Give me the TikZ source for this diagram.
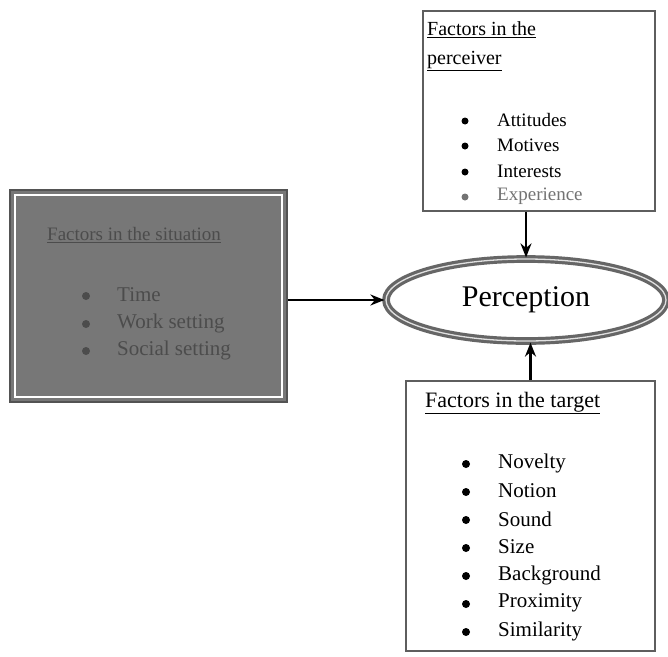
\documentclass[tikz,border=0pt]{standalone}
\usepackage{fontspec}
\setmainfont{Liberation Serif}
\usetikzlibrary{shapes.geometric,arrows.meta}
\definecolor{boxline}{HTML}{5E5E5E}
\definecolor{sitfill}{HTML}{777777}
\definecolor{sittext}{HTML}{4C4C4C}
\definecolor{ringcol}{HTML}{666666}
\tikzset{
  x=1pt,y=-1pt,
  factorbox/.style={draw=boxline,line width=1.8pt,fill=white,rectangle,inner sep=0pt},
  sitbox/.style={draw=sitfill!70!black,line width=1.5pt,fill=sitfill,rectangle,inner sep=0pt},
  ttl/.style={anchor=west,inner sep=0pt,font=\fontsize{20}{24}\selectfont},
  itm/.style={anchor=west,inner sep=0pt,font=\fontsize{19}{23}\selectfont},
  bigitm/.style={anchor=west,inner sep=0pt,font=\fontsize{21}{25}\selectfont},
  blt/.style={circle,fill=black,draw=none,inner sep=0pt,minimum size=8pt},
  conn/.style={draw=black,line width=2.5pt,-{Stealth[length=14pt,width=11pt]}},
}
\begin{document}
\begin{tikzpicture}
\useasboundingbox[fill=white] (0,0) rectangle (668,656);

% boxes
\node[sitbox,minimum width=277pt,minimum height=212pt] (lbox) at (148.5,296) {};
\draw[white,line width=1.6pt] ([shift={(6pt,-6pt)}]lbox.north west) rectangle ([shift={(-6pt,6pt)}]lbox.south east);
\node[factorbox,minimum width=232pt,minimum height=200pt] (pbox) at (539,111) {};
\node[factorbox,minimum width=249pt,minimum height=270pt] (tbox) at (530.5,516) {};

% perception ellipse
\node[ellipse,draw=ringcol,line width=3.2pt,double=white!88!black,double distance=1.3pt,
      minimum width=280pt,minimum height=82pt,inner sep=0pt,
      font=\fontsize{30}{34}\selectfont] (perc) at (526,300) {Perception};

% situation box text
\node[ttl,text=sittext,font=\fontsize{19}{23}\selectfont] (lt) at (47,235) {\underline{Factors in the situation}};
\node[blt,fill=sittext] (lb1) at (86,296) {};
\node[blt,fill=sittext] (lb2) at (86,324) {};
\node[blt,fill=sittext] (lb3) at (86,351) {};
\node[bigitm,text=sittext] (li1) at (117,295) {Time};
\node[bigitm,text=sittext] (li2) at (117,323) {Work setting};
\node[bigitm,text=sittext] (li3) at (117,350) {Social setting};

% perceiver box text
\node[ttl] (pt1) at (427,30) {\underline{Factors in the}};
\node[ttl] (pt2) at (427,61) {\underline{perceiver}};
\node[blt,minimum size=7pt] (pb1) at (465,121) {};
\node[blt,minimum size=7pt] (pb2) at (465,146) {};
\node[blt,minimum size=7pt] (pb3) at (465,172) {};
\node[blt,minimum size=7pt,fill=black!55] (pb4) at (465,197) {};
\node[itm] (pi1) at (497,120) {Attitudes};
\node[itm] (pi2) at (497,145) {Motives};
\node[itm] (pi3) at (497,171) {Interests};
\node[itm,text=black!55] (pi4) at (497,196) {Experience};

% target box text
\node[ttl,font=\fontsize{22}{26}\selectfont] (tt) at (425,403) {\underline{Factors in the target}};
\foreach \yy/\txt [count=\k] in {463/Novelty,491/Notion,519/Sound,547/Size,575/Background,603/Proximity,631/Similarity}{
  \node[blt] (tb\k) at (466,\yy+1) {};
  \node[bigitm] (ti\k) at (498,\yy) {\txt};
}

% connectors
\draw[conn] (lbox.east |- perc.west) -- (perc.west);
\draw[conn] (perc.north |- pbox.south) -- (perc.north);
\draw[conn] (tbox.north) -- (tbox.north |- perc.south);
\end{tikzpicture}
\end{document}
